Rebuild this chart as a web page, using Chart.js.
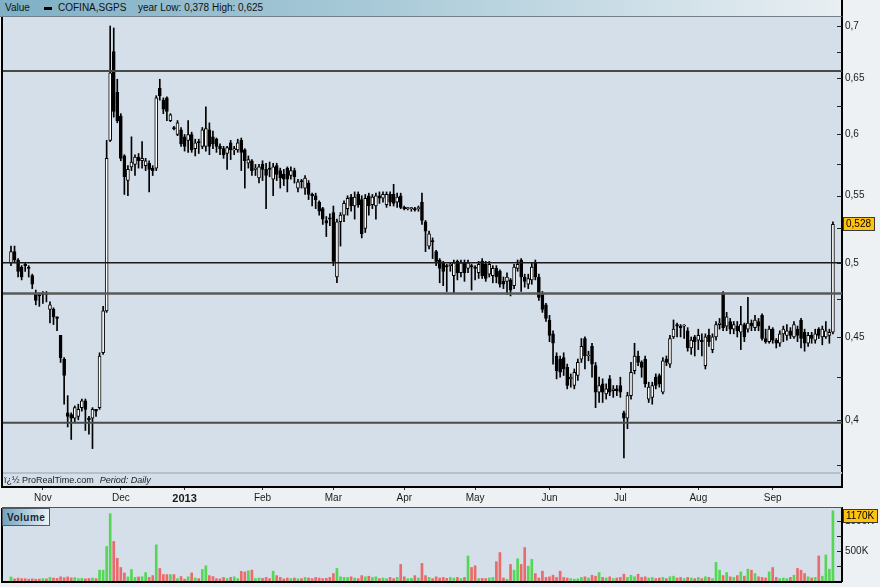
<!DOCTYPE html>
<html>
<head>
<meta charset="utf-8">
<script src="https://cdn.jsdelivr.net/npm/chart.js@4.4.1/dist/chart.umd.min.js"></script>
<style>
  body { margin: 0; background: #eef1f4; font-family: "Liberation Sans", Arial, sans-serif; }
  #wrap { position: relative; width: 880px; height: 587px; overflow: hidden; }
  canvas { position: absolute; left: 0; }
  #price { top: 0; }
  #vol { top: 507px; }
  #head {
    position: absolute; left: 0; top: 0; width: 841px; height: 16px; z-index: 2;
    border-bottom: 1px solid #6f808c; border-right: 2px solid #000;
    background: linear-gradient(to right, #7fb0c6, #a9cad8 45%, #e9eff3);
    font-size: 10px; color: #111;
  }
  #head span { position: absolute; top: 2px; line-height: 12px; white-space: nowrap; }
  #head .dash { top: 7px; width: 8px; height: 3px; background: #000; }
  #foot { position: absolute; left: 4px; top: 475px; font-size: 9px; color: #222; z-index: 2; white-space: nowrap; }
  #foot i { margin-left: 6px; }
  #vlabel {
    position: absolute; left: 2px; top: 508px; width: 48px; height: 18px; z-index: 2;
    border: 1px solid #4d5a66; background: linear-gradient(to right, #6fa6bf, #eaf1f5);
    font-size: 10px; font-weight: bold; line-height: 17px; color: #223; letter-spacing: 0.5px; padding-left: 4px; box-sizing: border-box;
  }
</style>
</head>
<body>
<div id="wrap">
  <canvas id="price" width="880" height="507"></canvas>
  <canvas id="vol" width="880" height="80"></canvas>
  <div id="head">
    <span style="left:5px">Value</span>
    <span class="dash" style="left:44px"></span>
    <span style="left:58px">COFINA,SGPS</span>
    <span style="left:138px">year Low: 0,378 High: 0,625</span>
  </div>
  <div id="foot">ï¿½ ProRealTime.com<i>Period: Daily</i></div>
  <div id="vlabel">Volume</div>
</div>
<script>
// daily candles, 18 Oct 2012 .. 20 Sep 2013
const open = [
  .500,.508,.502,.497,.499,.497,.491,.479,.478,
  .478,.479,.468,.468,.463,.451,.436,.404,.403,.401,.402,.407,.411,.401,.401,.406,.407,.440,.467,.595,.675,.637,
  .616,.582,.562,.573,.575,.581,.578,.574,.576,.572,.572,.641,.630,.632,.612,.606,.600,.604,
  .598,.595,.600,.588,.594,.590,.590,.604,.598,.596,.590,.588,.584,.593,.587,.587,.595,.587,.576,.578,.571,.564,
  .575,.571,.572,.563,.574,.570,.567,.572,.566,.570,.556,.562,.556,.560,.551,.550,.545,.540,.531,.533,
  .537,.490,.530,.535,.540,.549,.542,.551,.547,.525,.550,.543,.542,.550,.548,.543,.551,.551,.545,.550,
  .541,.540,.540,.540,.540,.545,.530,.512,.516,.508,.502,.500,.498,.498,.491,.501,.493,.500,.496,.498,
  .497,.493,.501,.499,.492,.491,.496,.494,.487,.487,.488,.484,.496,.502,.490,.485,.488,.500,.490,.478,.471,
  .461,.452,.438,.436,.437,.431,.424,.420,.426,.436,.449,.438,.444,.432,.416,.421,.415,.424,.417,.418,
  .420,.404,.401,.414,.429,.438,.434,.436,.412,.413,.425,.426,.416,.436,.433,.450,.458,.457,.457,.454,.443,.450,
  .448,.448,.432,.451,.442,.450,.458,.479,.457,.460,.455,.457,.453,.458,.455,.459,.456,.460,.464,.449,.447,
  .455,.448,.446,.452,.451,.454,.450,.455,.461,.453,.446,.451,.448,.455,.450,.450,.451,.453
];
const high = [
  .512,.512,.503,.498,.500,.498,.492,.481,.479,
  .480,.480,.473,.469,.463,.451,.437,.414,.404,.408,.409,.412,.412,.402,.407,.406,.440,.470,.595,.700,.698,.649,
  .618,.583,.574,.598,.583,.584,.594,.580,.578,.574,.634,.649,.632,.633,.618,.607,.612,.606,
  .600,.612,.602,.596,.596,.606,.624,.610,.603,.597,.592,.590,.590,.595,.590,.596,.597,.588,.582,.579,.575,.575,
  .578,.576,.577,.576,.576,.572,.571,.573,.573,.572,.563,.563,.566,.562,.552,.552,.546,.541,.534,.536,
  .542,.532,.537,.546,.550,.551,.553,.553,.550,.551,.552,.551,.552,.553,.553,.553,.553,.559,.552,.552,
  .542,.541,.541,.541,.542,.552,.531,.523,.518,.509,.503,.501,.499,.500,.502,.502,.502,.502,.502,.499,
  .498,.501,.503,.501,.501,.498,.498,.495,.490,.493,.489,.499,.502,.503,.492,.492,.500,.502,.492,.480,.472,
  .464,.454,.440,.438,.440,.433,.427,.430,.436,.449,.450,.441,.446,.434,.425,.424,.421,.426,.420,.420,
  .425,.405,.416,.434,.446,.441,.435,.438,.422,.422,.427,.427,.437,.438,.451,.461,.459,.458,.458,.456,.450,.451,
  .455,.452,.452,.455,.452,.460,.462,.480,.466,.462,.460,.460,.470,.459,.476,.461,.464,.462,.465,.455,.457,
  .456,.449,.454,.457,.458,.456,.460,.457,.462,.455,.453,.453,.455,.456,.457,.460,.455,.530
];
const low = [
  .498,.500,.490,.488,.494,.490,.482,.471,.470,
  .472,.473,.459,.458,.454,.434,.409,.396,.389,.399,.400,.405,.394,.392,.384,.402,.406,.439,.466,.594,.615,.610,
  .578,.551,.550,.570,.566,.572,.572,.570,.553,.566,.570,.630,.618,.612,.611,.604,.599,.590,
  .586,.585,.585,.582,.584,.588,.586,.583,.588,.585,.583,.580,.571,.579,.583,.585,.570,.556,.572,.566,.566,.560,
  .562,.540,.565,.550,.562,.556,.558,.553,.563,.560,.553,.556,.551,.547,.542,.540,.535,.528,.519,.527,
  .498,.486,.512,.530,.535,.538,.532,.541,.518,.522,.535,.540,.532,.544,.545,.541,.542,.542,.541,.540,
  .539,.539,.538,.538,.538,.528,.508,.510,.503,.498,.486,.484,.480,.494,.479,.488,.490,.487,.493,.481,
  .488,.489,.489,.487,.490,.486,.486,.483,.482,.478,.477,.482,.494,.480,.483,.482,.485,.488,.474,.466,.460,
  .447,.433,.424,.425,.426,.418,.419,.418,.423,.434,.430,.435,.425,.407,.410,.410,.412,.414,.413,.414,
  .413,.379,.395,.412,.427,.432,.425,.419,.410,.409,.418,.419,.415,.432,.431,.449,.450,.450,.449,.441,.439,.438,
  .442,.438,.430,.444,.440,.448,.455,.454,.454,.452,.452,.450,.442,.447,.453,.454,.454,.454,.448,.446,.446,
  .446,.443,.444,.447,.448,.449,.449,.447,.443,.441,.444,.446,.446,.449,.445,.449,.446,.452
];
const close = [
  .508,.502,.494,.490,.498,.496,.485,.474,.477,
  .479,.478,.471,.463,.462,.437,.426,.402,.401,.407,.406,.411,.406,.400,.406,.405,.438,.467,.580,.655,.620,.612,
  .580,.565,.571,.577,.581,.578,.580,.578,.571,.570,.632,.634,.622,.620,.617,.605,.610,.592,
  .590,.600,.587,.593,.593,.604,.605,.590,.592,.590,.588,.583,.589,.587,.588,.593,.585,.578,.579,.570,.572,.573,
  .571,.566,.571,.573,.567,.564,.563,.563,.570,.565,.561,.561,.564,.551,.550,.547,.538,.532,.529,.532,
  .501,.530,.535,.544,.548,.542,.549,.543,.521,.548,.542,.549,.550,.548,.551,.551,.545,.544,.549,.541,
  .540,.540,.540,.539,.540,.531,.523,.521,.515,.501,.496,.494,.497,.499,.500,.493,.500,.493,.500,.497,
  .496,.499,.491,.489,.499,.496,.490,.485,.485,.490,.481,.497,.499,.490,.487,.489,.497,.490,.476,.468,.462,
  .451,.446,.429,.428,.430,.420,.425,.428,.434,.444,.438,.438,.433,.416,.420,.416,.418,.416,.418,.417,
  .416,.401,.414,.428,.438,.434,.431,.421,.419,.420,.420,.421,.435,.434,.449,.455,.457,.456,.457,.443,.448,.447,
  .451,.447,.450,.447,.450,.458,.459,.456,.463,.455,.458,.454,.458,.450,.459,.457,.461,.457,.449,.447,.455,
  .448,.446,.452,.455,.454,.451,.458,.451,.449,.446,.451,.449,.452,.451,.455,.454,.453,.528
];
// volume in thousands of shares
const volume = [
  68,35,48,40,38,30,36,30,32,
  40,36,60,50,44,70,55,68,52,58,40,45,36,42,50,40,180,180,575,1122,660,378,
  225,135,68,192,60,68,72,141,60,90,603,209,107,107,107,107,40,75,
  30,70,135,50,40,192,254,90,75,40,36,60,40,60,70,40,160,150,170,180,40,50,
  45,60,40,164,90,60,36,50,40,50,36,40,60,50,40,60,50,40,45,60,
  124,209,70,60,60,70,50,40,90,70,80,60,70,40,50,40,60,40,60,276,
  70,40,45,90,50,293,90,60,40,70,50,60,45,60,50,60,40,60,417,225,
  254,40,45,40,50,60,321,474,50,30,276,180,372,276,558,248,361,124,50,164,60,
  70,96,60,164,60,50,40,30,36,60,70,50,96,80,141,60,50,70,40,50,
  60,113,60,96,70,113,60,70,50,60,40,50,60,40,70,80,50,60,40,60,50,40,
  60,40,70,60,40,310,180,90,141,70,60,90,152,80,197,180,124,70,60,50,152,
  225,60,40,50,40,60,96,209,180,124,70,50,60,417,80,434,197,1170
];

const monthStarts = [9, 31, 49, 71, 91, 111, 131, 152, 172, 194, 215];
const monthNames = ['Nov', 'Dec', '2013', 'Feb', 'Mar', 'Apr', 'May', 'Jun', 'Jul', 'Aug', 'Sep'];
const priceTicks = [0.375, 0.4, 0.425, 0.45, 0.475, 0.5, 0.525, 0.55, 0.575, 0.6, 0.625, 0.65, 0.675, 0.7];
const priceLabels = { '0.4': '0,4', '0.45': '0,45', '0.5': '0,5', '0.55': '0,55', '0.6': '0,6', '0.65': '0,65', '0.7': '0,7' };
const volTicks = [250000, 500000, 750000, 1000000];
const volLabels = { '500000': '500K', '1000000': '1000K' };
// horizontal support / resistance lines
const levels = [0.6567, 0.5, 0.4786, 0.3983];
const levelColors = ['#484848', '#1a1a1a', '#5a5a5a', '#4a4a4a'];
const levelWidths = [2, 1.5, 2.5, 2];

const idx = close.map((_, i) => i);
const up = idx.map(i => close[i] >= open[i]);
const X_MIN = -2.54, X_MAX = 234.56;
const FONT = '"Liberation Sans", Arial, sans-serif';

function inwardTicks(g, scale) {
  g.save();
  g.strokeStyle = '#222';
  g.lineWidth = 1;
  scale.ticks.forEach(t => {
    const y = Math.round(scale.getPixelForValue(t.value)) + 0.5;
    g.beginPath();
    g.moveTo(scale.left - 5, y);
    g.lineTo(scale.left, y);
    g.stroke();
  });
  g.restore();
}

function tagBox(g, x, y, text) {
  g.save();
  g.font = '10px ' + FONT;
  const w = Math.ceil(g.measureText(text).width) + 6;
  g.fillStyle = '#ffc20e';
  g.fillRect(x, Math.round(y) - 7, w, 14);
  g.strokeStyle = '#3a3a3a';
  g.lineWidth = 1;
  g.strokeRect(x + 0.5, Math.round(y) - 6.5, w - 1, 13);
  g.fillStyle = '#000';
  g.textBaseline = 'middle';
  g.fillText(text, x + 3, Math.round(y) + 0.5);
  g.restore();
}

const pricePanel = {
  id: 'pricePanel',
  beforeDraw(c) {
    const a = c.chartArea, g = c.ctx;
    g.save();
    g.fillStyle = '#d4dfe9';
    g.fillRect(a.left, a.top, a.width, a.height);
    g.restore();
  },
  afterDatasetsDraw(c) {
    const a = c.chartArea, g = c.ctx, ys = c.scales.y;
    g.save();
    levels.forEach((v, k) => {
      const y = ys.getPixelForValue(v);
      g.strokeStyle = levelColors[k];
      g.lineWidth = levelWidths[k];
      g.beginPath();
      g.moveTo(a.left, y);
      g.lineTo(a.right, y);
      g.stroke();
    });
    g.strokeStyle = '#b3c1cd';
    g.lineWidth = 2;
    g.beginPath();
    g.moveTo(a.left, a.bottom - 14);
    g.lineTo(a.right, a.bottom - 14);
    g.stroke();
    g.restore();
  },
  afterDraw(c) {
    const a = c.chartArea, g = c.ctx, ys = c.scales.y;
    g.save();
    g.strokeStyle = '#000';
    g.lineWidth = 2;
    g.beginPath();
    g.moveTo(a.left, a.top);
    g.lineTo(a.left, a.bottom + 1);
    g.stroke();
    g.restore();
    inwardTicks(g, ys);
    const last = close[close.length - 1];
    tagBox(g, ys.left + 1, ys.getPixelForValue(last), last.toFixed(3).replace('.', ','));
  }
};

const volPanel = {
  id: 'volPanel',
  beforeDraw(c) {
    const a = c.chartArea, g = c.ctx;
    g.save();
    g.fillStyle = '#d4dfe9';
    g.fillRect(a.left, a.top, a.width, a.height);
    g.restore();
  },
  afterDraw(c) {
    const a = c.chartArea, g = c.ctx, ys = c.scales.y;
    g.save();
    g.strokeStyle = '#555';
    g.lineWidth = 1;
    g.beginPath();
    g.moveTo(a.left, a.top - 0.5);
    g.lineTo(a.right, a.top - 0.5);
    g.stroke();
    g.strokeStyle = '#000';
    g.lineWidth = 2;
    g.beginPath();
    g.moveTo(a.left, a.top);
    g.lineTo(a.left, a.bottom + 1);
    g.lineTo(a.right, a.bottom + 1);
    g.stroke();
    g.restore();
    inwardTicks(g, ys);
    const last = volume[volume.length - 1];
    const y = Math.max(ys.getPixelForValue(last * 1000), a.top + 8);
    tagBox(g, ys.left + 1, y, last + 'K');
  }
};

new Chart(document.getElementById('price'), {
  type: 'bar',
  data: {
    datasets: [
      {
        label: 'body',
        data: idx.map(i => ({ x: i, y: [open[i], close[i]] })),
        backgroundColor: idx.map(i => up[i] ? '#ffffff' : '#000000'),
        borderColor: '#000',
        borderWidth: 1,
        borderSkipped: false,
        barThickness: 3,
        minBarLength: 1,
        grouped: false,
        order: 0
      },
      {
        label: 'wick',
        data: idx.map(i => ({ x: i, y: [low[i], high[i]] })),
        backgroundColor: '#000',
        borderWidth: 0,
        barThickness: 1,
        grouped: false,
        order: 1
      }
    ]
  },
  options: {
    responsive: false,
    animation: false,
    layout: { padding: { top: 17, left: 2, right: 0, bottom: 0 } },
    plugins: { legend: { display: false }, tooltip: { enabled: false } },
    scales: {
      x: {
        type: 'linear',
        min: X_MIN,
        max: X_MAX,
        offset: false,
        afterBuildTicks: s => { s.ticks = monthStarts.map(v => ({ value: v })); },
        afterFit: s => { s.height = 20; s.paddingLeft = 0; s.paddingRight = 0; },
        ticks: {
          autoSkip: false,
          maxRotation: 0,
          padding: 2,
          color: '#1a1a1a',
          callback: v => monthNames[monthStarts.indexOf(v)],
          font: c => {
            const bold = c.tick && c.tick.value === 49;
            return { family: FONT, size: bold ? 11 : 10, weight: bold ? 'bold' : 'normal' };
          }
        },
        grid: { drawOnChartArea: false, drawTicks: true, tickLength: 3, color: '#333', offset: false },
        border: { color: '#000', width: 2 }
      },
      y: {
        type: 'logarithmic',
        position: 'right',
        min: 0.3636,
        max: 0.709,
        afterBuildTicks: s => { s.ticks = priceTicks.map(v => ({ value: v })); },
        afterFit: s => { s.width = 38; s.paddingTop = 0; s.paddingBottom = 0; },
        ticks: {
          autoSkip: false,
          padding: 3,
          color: '#1a1a1a',
          font: { family: FONT, size: 10 },
          callback: v => priceLabels[String(v)] || ''
        },
        grid: { drawOnChartArea: false, drawTicks: false },
        border: { color: '#000', width: 2 }
      }
    }
  },
  plugins: [pricePanel]
});

new Chart(document.getElementById('vol'), {
  type: 'bar',
  data: {
    datasets: [{
      label: 'Volume',
      data: idx.map(i => ({ x: i, y: volume[i] * 1000 })),
      backgroundColor: idx.map(i => up[i] ? '#55d655' : '#ea6b6b'),
      borderWidth: 0,
      barThickness: 2,
      grouped: false
    }]
  },
  options: {
    responsive: false,
    animation: false,
    layout: { padding: { top: 1, left: 2, right: 0, bottom: 6 } },
    plugins: { legend: { display: false }, tooltip: { enabled: false } },
    scales: {
      x: { type: 'linear', display: false, min: X_MIN, max: X_MAX, offset: false },
      y: {
        position: 'right',
        min: 0,
        max: 1217000,
        afterBuildTicks: s => { s.ticks = volTicks.map(v => ({ value: v })); },
        afterFit: s => { s.width = 38; s.paddingTop = 0; s.paddingBottom = 0; },
        ticks: {
          autoSkip: false,
          padding: 3,
          color: '#1a1a1a',
          font: { family: FONT, size: 10 },
          callback: v => volLabels[String(v)] || ''
        },
        grid: { drawOnChartArea: false, drawTicks: false },
        border: { color: '#000', width: 2 }
      }
    }
  },
  plugins: [volPanel]
});
</script>
</body>
</html>
